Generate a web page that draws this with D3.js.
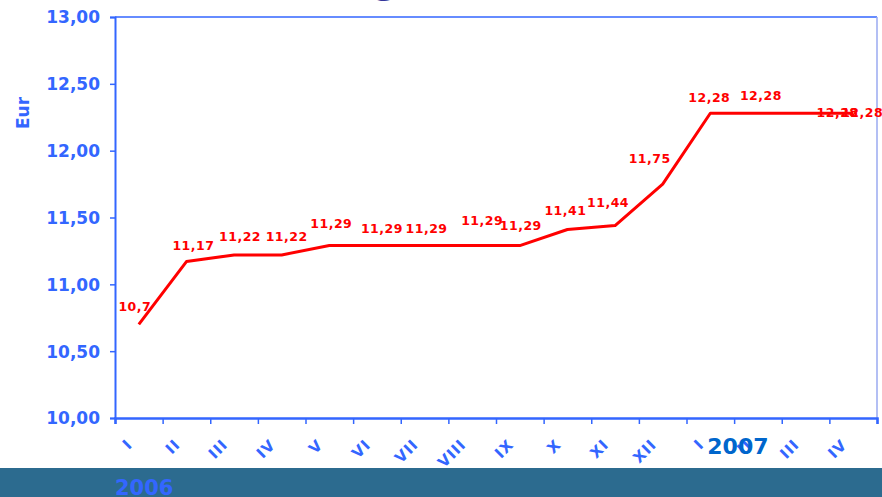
<!DOCTYPE html>
<html>
<head>
<meta charset="utf-8">
<script src="https://cdn.jsdelivr.net/npm/d3@7"></script>
<style>
  html, body { margin: 0; padding: 0; background: #fff; }
  svg { display: block; }
</style>
</head>
<body>
<svg id="chart" width="882" height="497"></svg>
<script>
// ---- data ----
const months = ["I","II","III","IV","V","VI","VII","VIII","IX","X","XI","XII","I","II","III","IV"];
const prices = [10.70, 11.17, 11.22, 11.22, 11.29, 11.29, 11.29, 11.29, 11.29, 11.41, 11.44, 11.75, 12.28, 12.28, 12.28, 12.28];
const priceLabels = ["10,7","11,17","11,22","11,22","11,29","11,29","11,29","11,29","11,29","11,41","11,44","11,75","12,28","12,28","12,28","12,28"];
const yTicks = [10, 10.5, 11, 11.5, 12, 12.5, 13];
const years = ["2006", "2007"];
const yAxisTitle = "Eur";

// ---- layout ----
const W = 882, H = 497;
const plot = { left: 115, right: 877, top: 17, bottom: 418 };
const blue = "#3366FF";
const font = "'DejaVu Sans', Verdana, sans-serif";
// label nudges (dx, dy) relative to the point, mimicking the original label placement
const labelNudge = [[-4,-13],[7,-12],[6,-14],[5,-14],[2,-18],[5,-13],[2,-13],[10,-21],[1,-16],[-2,-15],[-7,-19],[-13,-21],[-1,-11],[3,-13],[32,4],[9,4]];

const svg = d3.select("#chart");

const x = d3.scaleBand().domain(d3.range(months.length)).range([plot.left, plot.right]).padding(0);
const xEdge = d3.scaleLinear().domain([0, months.length]).range([plot.left, plot.right]);
const y = d3.scaleLinear().domain([10, 13]).range([plot.bottom, plot.top]);

// partial title glyph at the very top
svg.append("text").attr("x", 372).attr("y", -7.5)
  .attr("font-family", font).attr("font-weight", "bold").attr("font-size", 38)
  .attr("fill", "#35359a").text("g");

// frame: top and right
svg.append("line").attr("x1", plot.left).attr("x2", plot.right).attr("y1", plot.top).attr("y2", plot.top)
  .attr("stroke", blue).attr("stroke-width", 1.5);
svg.append("line").attr("x1", plot.right).attr("x2", plot.right).attr("y1", plot.top).attr("y2", plot.bottom)
  .attr("stroke", "#9aaaf0").attr("stroke-width", 1.5);

// y axis
const yAxis = svg.append("g").attr("transform", `translate(${plot.left},0)`)
  .call(d3.axisLeft(y).tickValues(yTicks).tickSize(5).tickPadding(10)
    .tickFormat(d => d.toFixed(2).replace(".", ",")));
yAxis.select(".domain").attr("stroke", blue).attr("stroke-width", 2);
yAxis.selectAll(".tick line").attr("stroke", blue).attr("stroke-width", 1.5);
yAxis.selectAll(".tick text").attr("fill", blue).attr("font-family", font)
  .attr("font-weight", "bold").attr("font-size", 17).attr("dy", "0.35em");

// x axis (ticks at month boundaries)
const xAxis = svg.append("g").attr("transform", `translate(0,${plot.bottom})`)
  .call(d3.axisBottom(xEdge).tickValues(d3.range(months.length + 1)).tickSize(6).tickFormat(""));
xAxis.select(".domain").attr("stroke", blue).attr("stroke-width", 2.5);
xAxis.selectAll(".tick line").attr("stroke", blue).attr("stroke-width", 1.5);

// x labels rotated
svg.append("g").selectAll("text").data(months).join("text")
  .attr("transform", (d, i) => `translate(${x(i) + x.bandwidth() / 2 - 9},${plot.bottom + 24}) rotate(-45)`)
  .attr("text-anchor", "end")
  .attr("dy", "0.35em")
  .attr("font-family", font).attr("font-weight", "bold").attr("font-size", 15)
  .attr("letter-spacing", 1)
  .attr("fill", blue)
  .text(d => d);

// y axis title
svg.append("text").attr("transform", "translate(29,113) rotate(-90)")
  .attr("text-anchor", "middle")
  .attr("font-family", font).attr("font-weight", "bold").attr("font-size", 17)
  .attr("fill", blue).text(yAxisTitle);

// line
const line = d3.line().x((d, i) => x(i) + x.bandwidth() / 2).y(d => y(d));
svg.append("path").datum(prices).attr("d", line)
  .attr("fill", "none").attr("stroke", "#FF0000").attr("stroke-width", 3).attr("stroke-linejoin", "round");

// data labels
svg.append("g").selectAll("text").data(prices).join("text")
  .attr("x", (d, i) => x(i) + x.bandwidth() / 2 + labelNudge[i][0])
  .attr("y", (d, i) => y(d) + labelNudge[i][1])
  .attr("text-anchor", "middle")
  .attr("font-family", font).attr("font-weight", "bold").attr("font-size", 12.5)
  .attr("letter-spacing", 0.5)
  .attr("fill", "#FF0000")
  .text((d, i) => priceLabels[i]);

// bottom band
svg.append("rect").attr("x", 0).attr("y", 468).attr("width", W).attr("height", H - 468).attr("fill", "#2C6B8F");

// year labels
svg.append("text").attr("x", x(0)).attr("y", 495)
  .attr("font-family", font).attr("font-weight", "bold").attr("font-size", 21)
  .attr("fill", blue).text(years[0]);
svg.append("text").attr("x", x(12) + x.bandwidth() / 2 - 3).attr("y", 454)
  .attr("font-family", font).attr("font-weight", "bold").attr("font-size", 22)
  .attr("fill", "#0066CC").text(years[1]);
</script>
</body>
</html>
